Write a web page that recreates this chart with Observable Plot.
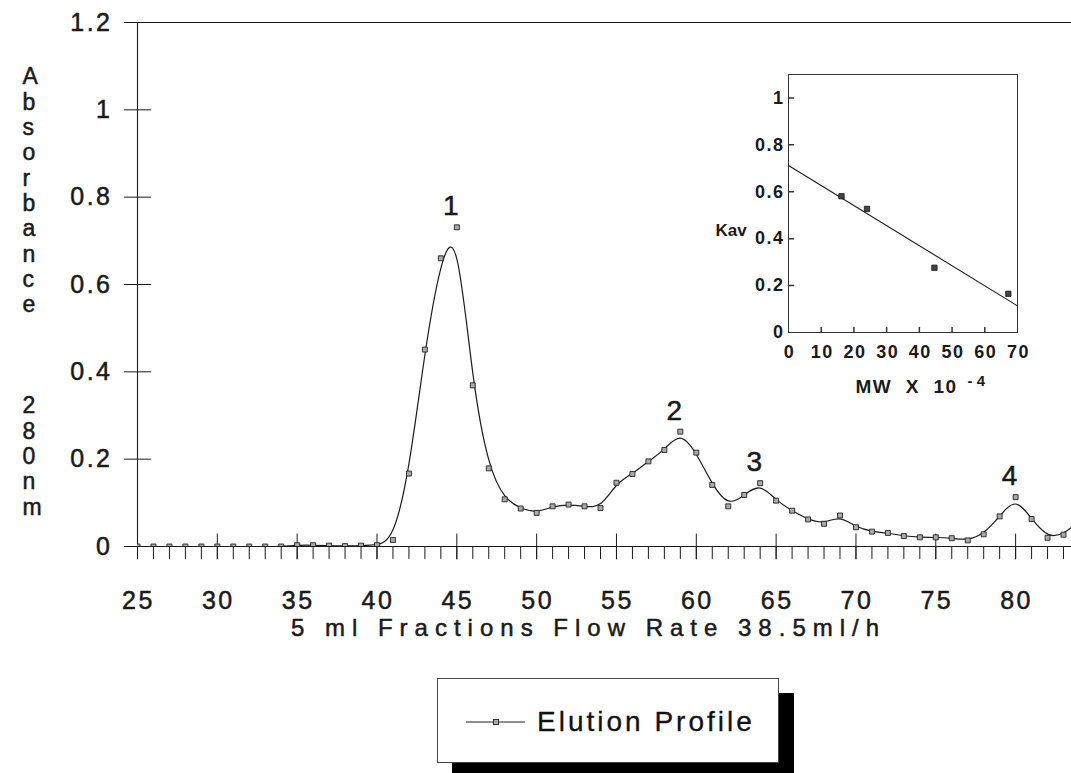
<!DOCTYPE html>
<html>
<head>
<meta charset="utf-8">
<script src="https://cdn.jsdelivr.net/npm/d3@7"></script>
<script src="https://cdn.jsdelivr.net/npm/@observablehq/plot@0.6"></script>
<style>
  html, body { margin: 0; padding: 0; background: #fff; }
  body { font-family: "Liberation Sans", Arial, sans-serif; color: #111; }
  #wrap { position: relative; width: 1071px; height: 773px; overflow: hidden; }
  #main { position: absolute; left: 0; top: 0; }
  #inset { position: absolute; left: 690px; top: 60px; }
  #legend { position: absolute; left: 437px; top: 678px; width: 342px; height: 85px;
            box-sizing: border-box; border: 1px solid #444; background: #fff;
            box-shadow: 15px 15px 0 #000; }
  #legend svg { position: absolute; left: 0; top: 0; }
  #legend .lbl { position: absolute; left: 99px; top: 26px; font-size: 28px; letter-spacing: 3px; line-height: 34px; -webkit-text-stroke: 0.3px #111; }
  #main g[font-size="25"] text { letter-spacing: 2.5px; }
  #main g[font-size="24"] text { letter-spacing: 7px; }
  #main g[font-size="23"] text { letter-spacing: 0; }
  #inset g[font-size="18"] text { letter-spacing: 1.5px; }
  #inset g[font-size="19"] text { letter-spacing: 1.5px; }
</style>
</head>
<body>
<div id="wrap">
  <div id="main"></div>
  <div id="inset"></div>
  <div id="legend">
    <svg width="120" height="85"><line x1="28" x2="87" y1="43" y2="43" stroke="#222" stroke-width="1.2"/><rect x="55.5" y="40.5" width="5" height="5" fill="#aaa" stroke="#222" stroke-width="0.9"/></svg>
    <div class="lbl">Elution Profile</div>
  </div>
</div>
<script>
// ---------- Main chart data ----------
const fractions = [25,26,27,28,29,30,31,32,33,34,35,36,37,38,39,40,41,42,43,44,45,46,47,48,49,50,
  51,52,53,54,55,56,57,58,59,60,61,62,63,64,65,66,67,68,69,70,71,72,73,74,75,76,77,78,79,80,81,82,83,84];
const absorbance = [0,0,0,0,0,0,0,0,0,0,0.003,0.003,0.002,0.001,0.002,0.003,0.015,0.167,0.451,0.660,0.731,
  0.369,0.179,0.108,0.087,0.077,0.092,0.096,0.092,0.088,0.146,0.166,0.195,0.221,0.263,0.215,0.141,0.092,
  0.118,0.145,0.105,0.082,0.062,0.052,0.071,0.044,0.034,0.031,0.024,0.021,0.021,0.019,0.014,0.028,0.069,
  0.113,0.063,0.020,0.027,0.060];
const xTickValues = [25,30,35,40,45,50,55,60,65,70,75,80];
const yTickValues = [0,0.2,0.4,0.6,0.8,1.0,1.2];
const yTickLabels = ["0","0.2","0.4","0.6","0.8","1","1.2"];
const peakFractions = [45,59,64,80];
const peakNames = ["1","2","3","4"];
const xTitle = "5 ml Fractions Flow Rate 38.5ml/h";
const yTitle = "Absorbance 280nm";
const legendLabel = "Elution Profile";

// ---------- Inset data ----------
const mw = [16.2, 24.0, 44.6, 67.2];
const kav = [0.581, 0.527, 0.276, 0.165];
const insetXTicks = [0,10,20,30,40,50,60,70];
const insetYTicks = [0,0.2,0.4,0.6,0.8,1];
const insetYLabels = ["0","0.2","0.4","0.6","0.8","1"];
const insetXTitle = "MW  X  10";
const insetXTitleExp = "- 4";
const insetYTitle = "Kav";

const xDomain = [25, 83.5];
const yDomain = [0, 1.2];
const ink = "#1a1a1a";
const tickShape = { draw(ctx, l) { ctx.moveTo(0, 0); ctx.lineTo(0, -l); } };

const rows = fractions.map((f, i) => ({f, a: absorbance[i]}));
const minorTicks = d3.range(xDomain[0], Math.floor(xDomain[1]) + 1);

// vertical stacked y title (blank lines between the two words)
const yTitleStacked = yTitle.split(" ").map(w => w.split("").join("\n")).join("\n\u00a0\n\u00a0\n\u00a0\n");

const textStroke = {stroke: ink, strokeWidth: 0.5};

const main = Plot.plot({
  width: 1071, height: 665,
  marginLeft: 137, marginRight: 0, marginTop: 22, marginBottom: 119,
  x: {domain: xDomain, axis: null},
  y: {domain: yDomain, axis: null},
  style: {fontFamily: "'Liberation Sans', Arial, sans-serif", color: ink, background: "transparent"},
  marks: [
    Plot.ruleY([yDomain[0]], {stroke: ink, strokeWidth: 1.1}),
    Plot.ruleY([yDomain[1]], {stroke: ink, strokeWidth: 1}),
    Plot.ruleX([xDomain[0]], {stroke: ink, strokeWidth: 1.1}),
    // y ticks crossing the axis
    Plot.vector(yTickValues, {x: () => xDomain[0], y: d => d, length: 26, rotate: 90, anchor: "middle", shape: tickShape, stroke: ink, strokeWidth: 1}),
    // x minor ticks (below axis)
    Plot.vector(minorTicks, {x: d => d, y: () => 0, length: 12, rotate: 180, anchor: "start", shape: tickShape, stroke: ink, strokeWidth: 1}),
    // x major ticks (crossing)
    Plot.vector(xTickValues, {x: d => d, y: () => 0, length: 25, rotate: 0, anchor: "middle", shape: tickShape, stroke: ink, strokeWidth: 1}),
    // tick labels
    Plot.text(xTickValues, {x: d => d, y: () => 0, dy: 54, dx: 1, text: d => String(d), fontSize: 25, fill: ink, ...textStroke}),
    Plot.text(yTickValues, {x: () => xDomain[0], y: d => d, dx: -25, text: (d, i) => yTickLabels[i], textAnchor: "end", fontSize: 25, fill: ink, ...textStroke}),
    // axis titles
    Plot.text([xTitle], {frameAnchor: "bottom", dy: 89, dx: -16, fontSize: 24, fill: ink, ...textStroke}),
    Plot.text([yTitleStacked], {frameAnchor: "top-left", dx: -115, dy: 44, lineAnchor: "top", lineHeight: 1.1, fontSize: 23, fill: ink, ...textStroke}),
    // curve and points
    Plot.line(rows, {x: "f", y: "a", curve: "basis", stroke: ink, strokeWidth: 1.2, clip: true}),
    Plot.dot(rows, {x: "f", y: "a", symbol: "square", r: 2.8, fill: "#aaa", stroke: "#222", strokeWidth: 0.9, clip: true}),
    // peak labels
    Plot.text(peakFractions, {x: d => d, y: d => absorbance[fractions.indexOf(d)], text: (d, i) => peakNames[i], dy: -21, dx: -6, fontSize: 28, fill: ink, ...textStroke})
  ]
});
document.getElementById("main").appendChild(main);

// ---------- Inset ----------
const mx = d3.mean(mw), my = d3.mean(kav);
const slope = d3.sum(mw.map((x, i) => (x - mx) * (kav[i] - my))) / d3.sum(mw.map(x => (x - mx) ** 2));
const intercept = my - slope * mx;
const insetXDomain = [0, 70];
const fitLine = insetXDomain.map(x => ({x, y: intercept + slope * x}));

const inset = Plot.plot({
  width: 340, height: 345,
  marginLeft: 98, marginRight: 13, marginTop: 14, marginBottom: 73,
  x: {domain: insetXDomain, axis: null},
  y: {domain: [0, 1.1], axis: null},
  style: {fontFamily: "'Liberation Sans', Arial, sans-serif", color: ink, background: "transparent"},
  marks: [
    Plot.frame({stroke: "#333", strokeWidth: 1, fill: "#fff"}),
    Plot.vector(insetXTicks.slice(1, -1), {x: d => d, y: () => 0, length: 5, anchor: "start", shape: tickShape, stroke: "#333"}),
    Plot.vector(insetYTicks.slice(1), {x: () => 0, y: d => d, length: 5, rotate: 90, anchor: "start", shape: tickShape, stroke: "#333"}),
    Plot.line(fitLine, {x: "x", y: "y", stroke: ink, strokeWidth: 1.1}),
    Plot.dot(mw.map((x, i) => ({x, y: kav[i]})), {x: "x", y: "y", symbol: "square", r: 3, fill: "#444", stroke: "#111", strokeWidth: 0.8}),
    Plot.text(insetXTicks, {x: d => d, y: () => 0, dy: 20, dx: 1, text: d => String(d), fontSize: 18, fontWeight: "bold", fill: ink}),
    Plot.text(insetYTicks, {x: () => 0, y: d => d, dx: -4, text: (d, i) => insetYLabels[i], textAnchor: "end", fontSize: 18, fontWeight: "bold", fill: ink}),
    Plot.text([insetYTitle], {frameAnchor: "top-left", dx: -73, dy: 149, fontSize: 17, fontWeight: "bold", fill: ink}),
    Plot.text([insetXTitle], {frameAnchor: "bottom-left", dx: 67, dy: 60, textAnchor: "start", fontSize: 19, fontWeight: "bold", fill: ink}),
    Plot.text([insetXTitleExp], {frameAnchor: "bottom-left", dx: 179, dy: 53, textAnchor: "start", fontSize: 15, fontWeight: "bold", fill: ink})
  ]
});
document.getElementById("inset").appendChild(inset);
</script>
</body>
</html>
